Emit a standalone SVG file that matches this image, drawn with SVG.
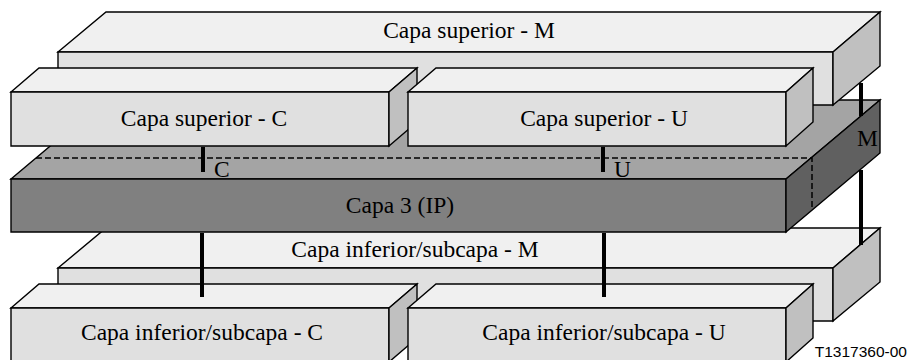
<svg xmlns="http://www.w3.org/2000/svg" width="909" height="360" viewBox="0 0 909 360">
<style>
.f{fill:#e0e0e0;stroke:#000;stroke-width:1.4;stroke-linejoin:miter}
.t{fill:#f0f0f0;stroke:#000;stroke-width:1.4}
.s{fill:#c0c0c0;stroke:#000;stroke-width:1.4}
.gf{fill:#808080;stroke:#000;stroke-width:1.4}
.gt{fill:#a4a4a4;stroke:#000;stroke-width:1.4}
.gs{fill:#606060;stroke:#000;stroke-width:1.4}
.d{fill:none;stroke:#000;stroke-width:1.5;stroke-dasharray:6 3}
.lb{font-family:"Liberation Serif","Times New Roman",serif;font-size:23.5px;fill:#000;text-anchor:middle}
.ll{font-family:"Liberation Serif","Times New Roman",serif;font-size:23.5px;fill:#000}
.cn{stroke:#000;stroke-width:4;fill:none}
</style>
<rect width="909" height="360" fill="#fff"/>
<g id="lower-M">
<polygon class="t" points="58,268 106,228 880,228 833,268"/>
<polygon class="f" points="58,268 833,268 833,321 58,321"/>
<polygon class="s" points="833,268 880,228 880,282 833,321"/>
<text class="lb" x="415" y="257">Capa inferior/subcapa - M</text>
</g>
<g id="lower-C">
<polygon class="t" points="11,308 39,284 417,284 389,308"/>
<polygon class="f" points="11,308 389,308 389,362 11,362"/>
<polygon class="s" points="389,308 417,284 417,338 389,362"/>
<text class="lb" x="202" y="340">Capa inferior/subcapa - C</text>
</g>
<g id="lower-U">
<polygon class="t" points="408,308 436,284 813,284 786,308"/>
<polygon class="f" points="408,308 786,308 786,362 408,362"/>
<polygon class="s" points="786,308 813,284 813,338 786,362"/>
<text class="lb" x="604" y="340">Capa inferior/subcapa - U</text>
</g>
<g id="layer3">
<polygon class="gt" points="11,179 105,100 880,100 786,179"/>
<polygon class="gf" points="11,179 786,179 786,232 11,232"/>
<polygon class="gs" points="786,179 880,100 880,153 786,232"/>
<polyline class="d" points="36,158 812,158 812,210"/>
<text class="lb" x="400" y="213">Capa 3 (IP)</text>
<text class="ll" x="214" y="177">C</text>
<text class="ll" x="614" y="177">U</text>
<text class="ll" x="857" y="146">M</text>
</g>
<g id="upper-M">
<polygon class="t" points="58,52 106,12 880,12 833,52"/>
<polygon class="f" points="58,52 833,52 833,105 58,105"/>
<polygon class="s" points="833,52 880,12 880,66 833,105"/>
<text class="lb" x="469" y="38">Capa superior - M</text>
</g>
<g id="upper-C">
<polygon class="t" points="11,92 39,68 417,68 389,92"/>
<polygon class="f" points="11,92 389,92 389,146 11,146"/>
<polygon class="s" points="389,92 417,68 417,122 389,146"/>
<text class="lb" x="204" y="126">Capa superior - C</text>
</g>
<g id="upper-U">
<polygon class="t" points="408,92 436,68 813,68 786,92"/>
<polygon class="f" points="408,92 786,92 786,146 408,146"/>
<polygon class="s" points="786,92 813,68 813,122 786,146"/>
<text class="lb" x="604" y="126">Capa superior - U</text>
</g>
<g id="connectors">
<line class="cn" x1="203" y1="147" x2="203" y2="172"/>
<line class="cn" x1="603" y1="147" x2="603" y2="172"/>
<line class="cn" x1="202" y1="233" x2="202" y2="297"/>
<line class="cn" x1="604" y1="233" x2="604" y2="297"/>
<path class="cn" d="M861,83 V116 M861,170 V245"/>
</g>
<text x="907" y="357" font-family="Liberation Sans, Arial, sans-serif" font-size="15.5" text-anchor="end">T1317360-00</text>
</svg>
